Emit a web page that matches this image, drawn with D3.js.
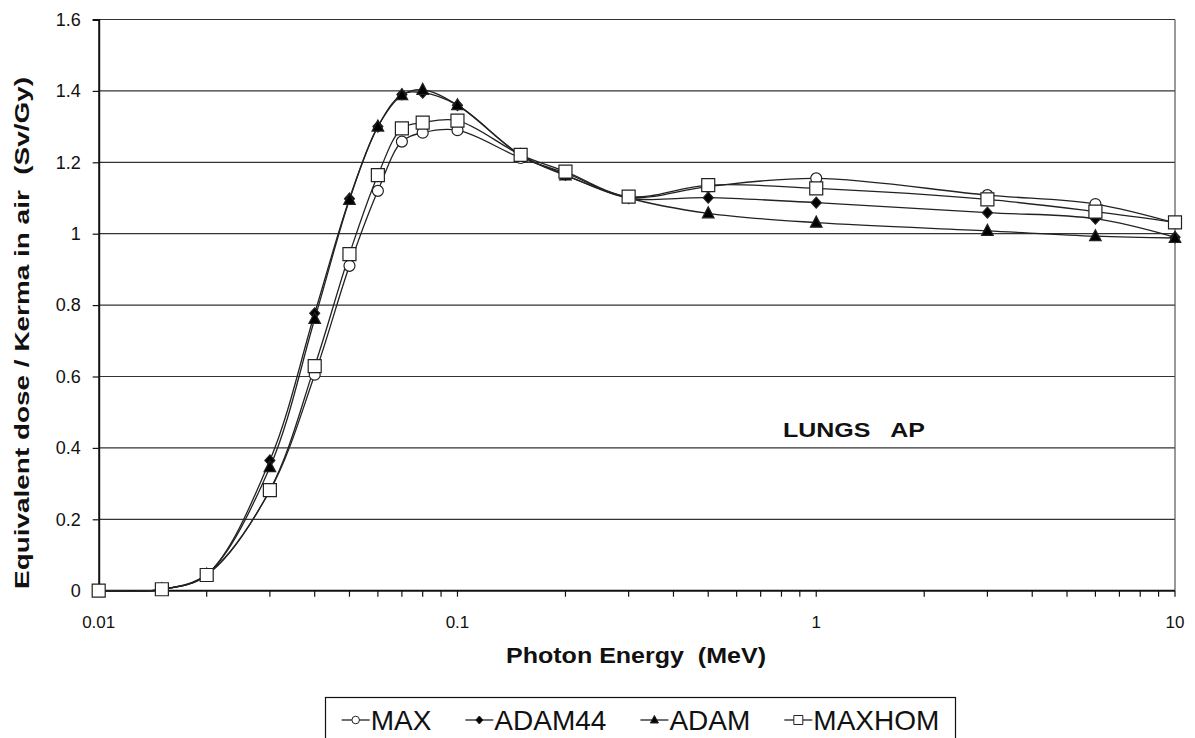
<!DOCTYPE html>
<html>
<head>
<meta charset="utf-8">
<script src="https://cdn.jsdelivr.net/npm/d3@7"></script>
<style>
  body { margin: 0; background: white; }
  svg { display: block; font-family: "Liberation Sans", Arial, sans-serif; }
  text { white-space: pre; }
</style>
</head>
<body>
<div id="chart"></div>
<script>
// Photon energies (MeV)
const energies = [0.01, 0.015, 0.02, 0.03, 0.04, 0.05, 0.06, 0.07, 0.08, 0.1, 0.15, 0.2, 0.3, 0.5, 1, 3, 6, 10];

// Equivalent dose / kerma in air (Sv/Gy)
const maxVals    = [0, 0.004, 0.045, 0.28, 0.605, 0.91, 1.12, 1.258, 1.283, 1.29, 1.212, 1.17, 1.102, 1.132, 1.155, 1.108, 1.083, 1.03];
const adam44Vals = [0, 0.004, 0.045, 0.365, 0.777, 1.098, 1.30, 1.39, 1.395, 1.36, 1.22, 1.165, 1.10, 1.101, 1.087, 1.059, 1.042, 0.99];
const adamVals   = [0, 0.004, 0.045, 0.346, 0.761, 1.095, 1.30, 1.388, 1.403, 1.36, 1.22, 1.163, 1.10, 1.057, 1.031, 1.008, 0.993, 0.988];
const maxhomVals = [0, 0.004, 0.044, 0.282, 0.629, 0.943, 1.164, 1.295, 1.311, 1.317, 1.221, 1.174, 1.104, 1.136, 1.127, 1.096, 1.062, 1.032];

const seriesNames = ["MAX", "ADAM44", "ADAM", "MAXHOM"];
const seriesVals = [maxVals, adam44Vals, adamVals, maxhomVals];
const seriesSymbols = ["circle", "diamond", "triangle", "square"];

const xTicks = [0.01, 0.1, 1, 10];
const yTicks = [0, 0.2, 0.4, 0.6, 0.8, 1, 1.2, 1.4, 1.6];

const width = 1195, height = 738;
const margin = {top: 19.5, right: 20, bottom: 147.3, left: 98.7};

const svg = d3.select("#chart").append("svg")
  .attr("width", width).attr("height", height);

const x = d3.scaleLog().domain([0.01, 10]).range([margin.left, width - margin.right]);
const y = d3.scaleLinear().domain([0, 1.6]).range([height - margin.bottom, margin.top]);

// grid lines
svg.append("g").selectAll("line")
  .data(yTicks.filter(d => d > 0)).join("line")
  .attr("x1", margin.left).attr("x2", width - margin.right)
  .attr("y1", d => y(d)).attr("y2", d => y(d))
  .attr("stroke", "#333").attr("stroke-width", 1.2);

// right border
svg.append("line")
  .attr("x1", width - margin.right).attr("x2", width - margin.right)
  .attr("y1", margin.top).attr("y2", y(0))
  .attr("stroke", "#555").attr("stroke-width", 1.2);

// y axis
const yAxis = svg.append("g").attr("transform", `translate(${margin.left},0)`)
  .call(d3.axisLeft(y).tickValues(yTicks).tickSize(6).tickPadding(12)
    .tickFormat(d => d === 0 || d === 1 ? d3.format("d")(d) : d3.format(".1f")(d)));
yAxis.select(".domain").attr("stroke", "#111").attr("stroke-width", 2);
yAxis.selectAll(".tick line").attr("stroke", "#111").attr("stroke-width", 1.2);
yAxis.selectAll("text").attr("font-size", 18).attr("fill", "#111")
  .attr("font-family", "'Liberation Sans', Arial, sans-serif");

// x axis: major + minor ticks
const minorTicks = [];
[0.01, 0.1, 1].forEach(b => { for (let k = 2; k <= 9; k++) minorTicks.push(b * k); });
const xg = svg.append("g").attr("transform", `translate(0,${y(0)})`);
xg.append("line").attr("x1", margin.left).attr("x2", width - margin.right)
  .attr("stroke", "#111").attr("stroke-width", 2);
xg.selectAll(".minor").data(minorTicks.concat(xTicks)).join("line")
  .attr("class", "minor")
  .attr("x1", d => x(d)).attr("x2", d => x(d)).attr("y1", 0).attr("y2", 6)
  .attr("stroke", "#111").attr("stroke-width", 1.2);
xg.selectAll("text").data(xTicks).join("text")
  .attr("x", d => x(d)).attr("y", 37)
  .attr("text-anchor", "middle").attr("font-size", 17).attr("fill", "#111")
  .text(d => String(d));

// smoothed lines
const line = d3.line()
  .x((v, i) => x(energies[i])).y(v => y(v))
  .curve(d3.curveCatmullRom.alpha(0.5));

const symbolPath = {
  circle: d3.symbol(d3.symbolCircle, 95)(),
  diamond: "M0,-5.5L5,0L0,5.5L-5,0Z",
  triangle: "M0,-6.5L5.8,4.5L-5.8,4.5Z",
  square: "M-6.5,-6.5H6.5V6.5H-6.5Z"
};
const symbolFill = {circle: "white", diamond: "black", triangle: "black", square: "white"};

seriesVals.forEach((vals, s) => {
  svg.append("path").datum(vals)
    .attr("fill", "none").attr("stroke", "#222").attr("stroke-width", 1.3)
    .attr("d", line);
});
seriesVals.forEach((vals, s) => {
  const sym = seriesSymbols[s];
  svg.append("g").selectAll("path").data(vals).join("path")
    .attr("transform", (v, i) => `translate(${x(energies[i])},${y(v)})`)
    .attr("d", symbolPath[sym])
    .attr("fill", symbolFill[sym]).attr("stroke", "#222").attr("stroke-width", 1.2);
});

// titles
svg.append("text")
  .attr("transform", `translate(29,333) rotate(-90)`)
  .attr("text-anchor", "middle").attr("font-size", 21).attr("font-weight", "bold")
  .attr("fill", "#111")
  .attr("textLength", 512).attr("lengthAdjust", "spacingAndGlyphs")
  .text("Equivalent dose / Kerma in air  (Sv/Gy)");

svg.append("text")
  .attr("x", 636).attr("y", 663)
  .attr("text-anchor", "middle").attr("font-size", 22).attr("font-weight", "bold")
  .attr("fill", "#111")
  .attr("textLength", 260).attr("lengthAdjust", "spacingAndGlyphs")
  .text("Photon Energy  (MeV)");

svg.append("text")
  .attr("x", 783).attr("y", 437)
  .attr("font-size", 20).attr("font-weight", "bold").attr("fill", "#111")
  .attr("textLength", 142).attr("lengthAdjust", "spacingAndGlyphs")
  .text("LUNGS   AP");

// legend
const legend = svg.append("g");
legend.append("rect")
  .attr("x", 325.5).attr("y", 697.5).attr("width", 630).attr("height", 60)
  .attr("fill", "white").attr("stroke", "#111").attr("stroke-width", 1.2);
const legendSymbol = {
  circle: d3.symbol(d3.symbolCircle, 45)(),
  diamond: "M0,-4L3.6,0L0,4L-3.6,0Z",
  triangle: "M0,-4.5L4,3L-4,3Z",
  square: "M-4.5,-4.5H4.5V4.5H-4.5Z"
};
const symW = 28, gap = 34;
const items = seriesNames.map((name, s) => {
  const g = legend.append("g");
  g.append("line").attr("x1", 0).attr("x2", symW).attr("stroke", "#222").attr("stroke-width", 1.3);
  g.append("path").attr("transform", `translate(${symW / 2},0)`)
    .attr("d", legendSymbol[seriesSymbols[s]])
    .attr("fill", symbolFill[seriesSymbols[s]]).attr("stroke", "#222").attr("stroke-width", 1);
  const t = g.append("text").attr("x", symW + 1).attr("y", 10)
    .attr("font-size", 28).attr("fill", "#111").text(name);
  const w = symW + 1 + t.node().getComputedTextLength();
  return {g, w};
});
const total = d3.sum(items, d => d.w) + gap * (items.length - 1);
let cx = 325.5 + (630 - total) / 2;
items.forEach(it => {
  it.g.attr("transform", `translate(${cx},720)`);
  cx += it.w + gap;
});
</script>
</body>
</html>
